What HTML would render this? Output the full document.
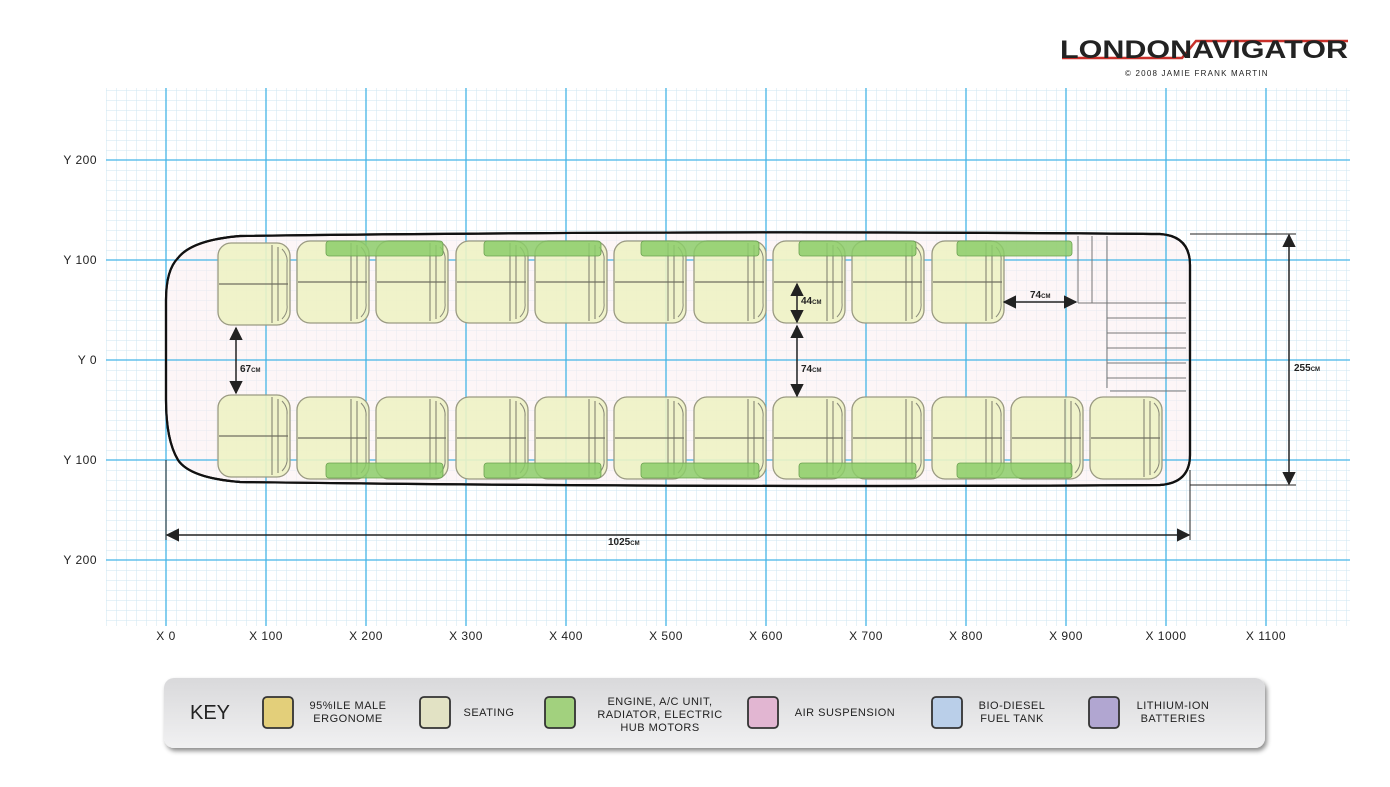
<!DOCTYPE html>
<html><head><meta charset="utf-8"><style>
body{margin:0;background:#fff;width:1390px;height:782px;overflow:hidden;font-family:"Liberation Sans",sans-serif}
svg text{font-family:"Liberation Sans",sans-serif;fill:#222}
</style></head><body>
<svg width="1390" height="782" viewBox="0 0 1390 782">
<defs>
<pattern id="minor" x="6" y="0" width="10" height="10" patternUnits="userSpaceOnUse">
<path d="M0 0V10M0 0H10" stroke="#cde6f2" stroke-width="1" fill="none"/>
</pattern>
<g id="seat">
<rect x="0" y="0" width="72" height="82" rx="13" fill="#eef3c4" fill-opacity="0.9" stroke="#9a9a82" stroke-width="1.3"/>
<path d="M54 2V80M60 4V78" stroke="#7a7a6a" stroke-width="1" fill="none"/>
<path d="M64 6Q70 12 69 20V62Q70 70 64 76" stroke="#8a8a7a" stroke-width="1" fill="none"/>
<line x1="1" y1="41" x2="70" y2="41" stroke="#6f6f60" stroke-width="1.2"/>
</g>
<marker id="ah" viewBox="0 0 10 10" refX="9" refY="5" markerWidth="9" markerHeight="9" orient="auto-start-reverse"><path d="M0 0L10 5L0 10Z" fill="#222"/></marker>
<linearGradient id="kg" x1="0" y1="0" x2="0" y2="1"><stop offset="0" stop-color="#d9d9db"/><stop offset="1" stop-color="#f1f1f2"/></linearGradient>
<filter id="sh" x="-5%" y="-30%" width="110%" height="160%"><feDropShadow dx="2" dy="3" stdDeviation="2.5" flood-color="#000" flood-opacity="0.45"/></filter>
</defs>

<rect x="106" y="88" width="1244" height="538" fill="url(#minor)"/>

<!-- bus -->
<path d="M240 236 Q700 230 1160 234 Q1190 236 1190 265 V455 Q1190 483 1160 485 Q700 488 240 482 Q190 478 178 460 Q166 440 166 400 V300 Q166 270 178 258 Q192 240 240 236Z" fill="#fbeef0" fill-opacity="0.55" stroke="#111" stroke-width="2.2"/>

<g stroke="#45b5e6" stroke-width="1.3">
<line x1="166" y1="88" x2="166" y2="626"/><line x1="266" y1="88" x2="266" y2="626"/><line x1="366" y1="88" x2="366" y2="626"/><line x1="466" y1="88" x2="466" y2="626"/><line x1="566" y1="88" x2="566" y2="626"/><line x1="666" y1="88" x2="666" y2="626"/><line x1="766" y1="88" x2="766" y2="626"/><line x1="866" y1="88" x2="866" y2="626"/><line x1="966" y1="88" x2="966" y2="626"/><line x1="1066" y1="88" x2="1066" y2="626"/><line x1="1166" y1="88" x2="1166" y2="626"/><line x1="1266" y1="88" x2="1266" y2="626"/>
<line x1="106" y1="160" x2="1350" y2="160"/><line x1="106" y1="260" x2="1350" y2="260"/><line x1="106" y1="360" x2="1350" y2="360"/><line x1="106" y1="460" x2="1350" y2="460"/><line x1="106" y1="560" x2="1350" y2="560"/>
</g>
<path d="M240 236 Q700 230 1160 234 Q1190 236 1190 265 V455 Q1190 483 1160 485 Q700 488 240 482 Q190 478 178 460 Q166 440 166 400 V300 Q166 270 178 258 Q192 240 240 236Z" fill="none" stroke="#111" stroke-width="2.2"/>

<g stroke="#777" stroke-width="1" fill="none">
<line x1="1078" y1="236" x2="1078" y2="303"/><line x1="1092" y1="236" x2="1092" y2="303"/><line x1="1107" y1="236" x2="1107" y2="388"/>
<line x1="1078" y1="303" x2="1186" y2="303"/><line x1="1107" y1="318" x2="1186" y2="318"/><line x1="1107" y1="333" x2="1186" y2="333"/><line x1="1107" y1="348" x2="1186" y2="348"/><line x1="1107" y1="363" x2="1186" y2="363"/><line x1="1107" y1="378" x2="1186" y2="378"/><line x1="1110" y1="391" x2="1186" y2="391"/>
</g>

<g>
<use href="#seat" x="218" y="243"/><use href="#seat" x="297" y="241"/><use href="#seat" x="376" y="241"/><use href="#seat" x="456" y="241"/><use href="#seat" x="535" y="241"/><use href="#seat" x="614" y="241"/><use href="#seat" x="694" y="241"/><use href="#seat" x="773" y="241"/><use href="#seat" x="852" y="241"/><use href="#seat" x="932" y="241"/>
<use href="#seat" x="218" y="395"/><use href="#seat" x="297" y="397"/><use href="#seat" x="376" y="397"/><use href="#seat" x="456" y="397"/><use href="#seat" x="535" y="397"/><use href="#seat" x="614" y="397"/><use href="#seat" x="694" y="397"/><use href="#seat" x="773" y="397"/><use href="#seat" x="852" y="397"/><use href="#seat" x="932" y="397"/><use href="#seat" x="1011" y="397"/><use href="#seat" x="1090" y="397"/>
</g>
<g fill="#8ccc6a" fill-opacity="0.85" stroke="#6aa050" stroke-width="0.8">
<rect x="326" y="241" width="117" height="15" rx="3"/><rect x="484" y="241" width="117" height="15" rx="3"/><rect x="641" y="241" width="118" height="15" rx="3"/><rect x="799" y="241" width="117" height="15" rx="3"/><rect x="957" y="241" width="115" height="15" rx="3"/>
<rect x="326" y="463" width="117" height="15" rx="3"/><rect x="484" y="463" width="117" height="15" rx="3"/><rect x="641" y="463" width="118" height="15" rx="3"/><rect x="799" y="463" width="117" height="15" rx="3"/><rect x="957" y="463" width="115" height="15" rx="3"/>
</g>

<g stroke="#222" stroke-width="1.5" fill="none">
<line x1="236" y1="328" x2="236" y2="393" marker-start="url(#ah)" marker-end="url(#ah)"/>
<line x1="797" y1="284" x2="797" y2="322" marker-start="url(#ah)" marker-end="url(#ah)"/>
<line x1="797" y1="326" x2="797" y2="396" marker-start="url(#ah)" marker-end="url(#ah)"/>
<line x1="1004" y1="302" x2="1076" y2="302" marker-start="url(#ah)" marker-end="url(#ah)"/>
<line x1="1289" y1="235" x2="1289" y2="484" marker-start="url(#ah)" marker-end="url(#ah)"/>
<line x1="167" y1="535" x2="1189" y2="535" marker-start="url(#ah)" marker-end="url(#ah)"/>
</g>
<g stroke="#222" stroke-width="1">
<line x1="1190" y1="234" x2="1296" y2="234"/><line x1="1190" y1="485" x2="1296" y2="485"/>
<line x1="166" y1="460" x2="166" y2="540"/><line x1="1190" y1="470" x2="1190" y2="540"/>
</g>
<g font-size="10" font-weight="bold">
<text x="240" y="372">67<tspan font-size="6">CM</tspan></text>
<text x="801" y="304">44<tspan font-size="6">CM</tspan></text>
<text x="801" y="372">74<tspan font-size="6">CM</tspan></text>
<text x="1030" y="298">74<tspan font-size="6">CM</tspan></text>
<text x="1294" y="371">255<tspan font-size="6">CM</tspan></text>
<text x="608" y="545">1025<tspan font-size="6">CM</tspan></text>
</g>

<g font-size="12" text-anchor="end" letter-spacing="0.5">
<text x="97" y="164">Y 200</text><text x="97" y="264">Y 100</text><text x="97" y="364">Y 0</text><text x="97" y="464">Y 100</text><text x="97" y="564">Y 200</text>
</g>
<g font-size="12" text-anchor="middle" letter-spacing="0.5">
<text x="166" y="640">X 0</text><text x="266" y="640">X 100</text><text x="366" y="640">X 200</text><text x="466" y="640">X 300</text><text x="566" y="640">X 400</text><text x="666" y="640">X 500</text><text x="766" y="640">X 600</text><text x="866" y="640">X 700</text><text x="966" y="640">X 800</text><text x="1066" y="640">X 900</text><text x="1166" y="640">X 1000</text><text x="1266" y="640">X 1100</text>
</g>

<!-- logo -->
<path d="M1062 58 H1182 L1196 41 H1348" stroke="#c8302a" stroke-width="2.5" fill="none"/>
<text x="1060" y="58" font-size="25" font-weight="bold" fill="#111" textLength="288" lengthAdjust="spacingAndGlyphs">LONDONAVIGATOR</text>
<text x="1125" y="76" font-size="8" letter-spacing="1.2" fill="#444">© 2008 JAMIE FRANK MARTIN</text>

<rect x="164" y="678" width="1101" height="70" rx="10" fill="url(#kg)" filter="url(#sh)"/>
<text x="190" y="719" font-size="20" fill="#111">KEY</text>
<g stroke="#333" stroke-width="1.8">
<rect x="263" y="697" width="30" height="31" rx="4" fill="#e3cf7a"/>
<rect x="420" y="697" width="30" height="31" rx="4" fill="#e2e2c4"/>
<rect x="545" y="697" width="30" height="31" rx="4" fill="#a2d17e"/>
<rect x="748" y="697" width="30" height="31" rx="4" fill="#e2b6d2"/>
<rect x="932" y="697" width="30" height="31" rx="4" fill="#bacfe9"/>
<rect x="1089" y="697" width="30" height="31" rx="4" fill="#b1a6d1"/>
</g>
<g font-size="11" text-anchor="middle" fill="#222" letter-spacing="0.5">
<text x="348" y="709">95%ILE MALE</text><text x="348" y="722">ERGONOME</text>
<text x="489" y="716">SEATING</text>
<text x="660" y="705">ENGINE, A/C UNIT,</text><text x="660" y="718">RADIATOR, ELECTRIC</text><text x="660" y="731">HUB MOTORS</text>
<text x="845" y="716">AIR SUSPENSION</text>
<text x="1012" y="709">BIO-DIESEL</text><text x="1012" y="722">FUEL  TANK</text>
<text x="1173" y="709">LITHIUM-ION</text><text x="1173" y="722">BATTERIES</text>
</g>
</svg>
</body></html>
